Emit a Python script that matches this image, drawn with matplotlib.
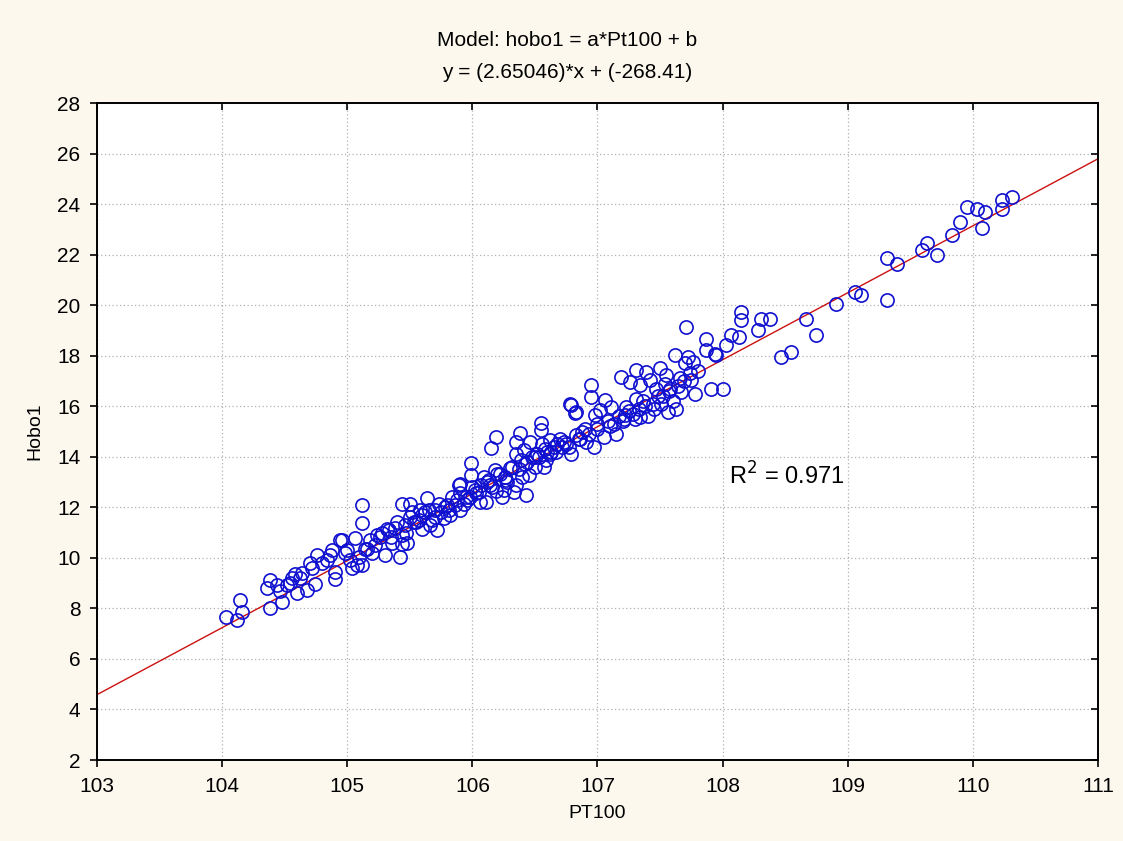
import numpy as np
import matplotlib
matplotlib.use("Agg")
import matplotlib.pyplot as plt

plt.rcParams["font.family"] = ["Liberation Sans", "DejaVu Sans"]

# fit from the chart title
slope = 2.65046
intercept = -268.41
r2 = 0.971

# points (PT100, Hobo1)
pt100 = [
    104.03, 104.12, 104.16, 104.14, 104.38, 104.38, 104.36, 104.44, 104.48, 104.52,
    104.58, 104.56, 104.60, 104.68, 104.74, 104.70, 104.76, 104.80, 104.86, 104.64,
    104.90, 104.90, 104.94, 104.96, 105.02, 105.08, 105.12, 105.14, 105.09, 105.04,
    104.98, 105.16, 105.22, 105.20, 105.26, 105.30, 105.32, 105.35, 105.40, 105.44,
    105.44, 105.42, 105.48, 105.50, 105.50, 105.44, 105.12, 105.12, 105.60, 105.60,
    105.64, 105.68, 105.72, 105.73, 105.77, 105.81, 105.90, 105.93, 105.89, 105.99,
    105.99, 106.03, 105.95, 106.06, 106.02, 106.11, 105.86, 105.90, 105.90, 106.00,
    106.09, 106.18, 106.19, 106.15, 106.19, 106.27, 106.30, 106.35, 106.35, 106.38,
    106.39, 106.41, 106.43, 106.45, 106.46, 106.50, 106.52, 106.55, 106.55, 106.57,
    106.59, 106.62, 106.67, 106.70, 106.72, 106.79, 106.79, 106.82, 106.83, 106.91,
    106.95, 106.95, 106.97, 106.98, 107.02, 107.06, 107.11, 106.78, 106.83, 107.19,
    107.22, 107.23, 107.26, 107.31, 107.31, 107.34, 107.34, 107.39, 107.42, 107.47,
    107.51, 107.50, 107.55, 107.56, 107.58, 107.62, 107.63, 107.67, 107.72, 107.71,
    107.76, 107.78, 107.80, 107.75, 107.87, 107.87, 107.91, 107.94, 107.95, 108.03,
    108.07, 108.13, 108.15, 108.15, 108.28, 108.31, 108.38, 108.47, 108.55, 108.67,
    108.75, 108.91, 109.06, 109.11, 109.31, 109.31, 109.39, 109.59, 109.63, 109.71,
    109.83, 109.90, 109.95, 110.03, 110.07, 110.10, 110.23, 110.23, 110.31, 108.00,
    106.90, 107.00, 107.10, 107.20, 107.15, 107.05, 107.30, 107.40, 107.25, 107.45,
    106.24, 106.33, 106.28, 106.22, 106.40, 106.48, 106.60, 106.65, 106.75, 106.86,
    105.55, 105.62, 105.66, 105.70, 105.78, 105.84, 105.96, 106.05, 106.12, 106.14,
    105.28, 105.36, 105.38, 105.46, 105.52, 105.58, 104.46, 104.54, 104.62, 104.72,
    104.84, 104.88, 105.00, 105.06, 107.36, 107.48, 107.54, 107.66, 107.70, 107.60,
    # denser core
    105.18, 105.24, 105.33, 105.47, 105.53, 105.57, 105.65, 105.75, 105.80, 105.88,
    106.07, 106.13, 106.20, 106.26, 106.32, 106.37, 106.44, 106.53, 106.58, 106.63,
    106.68, 106.73, 106.77, 106.85, 106.88, 106.93, 107.00, 107.08, 107.13, 107.17,
    107.21, 107.28, 107.33, 107.38, 107.44, 107.52, 107.57, 107.64, 107.69, 107.74,
    106.35, 106.42, 106.50, 106.56, 106.62, 106.25, 106.16, 105.98, 105.82, 105.70,
]
hobo1 = [
    7.67, 7.54, 7.87, 8.33, 8.00, 9.12, 8.79, 8.93, 8.26, 8.93,
    9.38, 9.20, 8.60, 8.73, 8.98, 9.78, 10.11, 9.78, 10.11, 9.40,
    9.45, 9.18, 10.70, 10.70, 9.90, 9.72, 9.72, 10.37, 10.04, 9.60,
    10.20, 10.37, 10.50, 10.20, 10.83, 10.11, 11.16, 10.83, 11.42, 10.90,
    10.56, 10.04, 10.60, 11.63, 12.15, 12.15, 12.09, 11.36, 11.69, 11.16,
    12.35, 11.49, 11.10, 12.15, 11.56, 11.89, 11.89, 12.15, 12.88, 13.74,
    13.28, 12.55, 12.40, 12.20, 12.70, 12.20, 12.10, 12.94, 12.55, 12.82,
    13.20, 13.48, 14.79, 14.33, 12.63, 13.08, 13.54, 12.90, 14.60, 14.94,
    13.87, 14.27, 12.49, 13.28, 14.60, 13.60, 14.10, 15.32, 15.06, 13.60,
    13.87, 14.66, 14.20, 14.72, 14.40, 14.13, 16.05, 15.72, 14.86, 14.60,
    16.84, 16.37, 14.40, 15.65, 15.84, 16.24, 15.97, 16.07, 15.77, 17.16,
    15.65, 15.97, 16.96, 17.43, 16.30, 16.83, 15.57, 17.36, 17.04, 16.70,
    16.10, 17.50, 17.24, 15.77, 16.70, 18.03, 15.90, 16.57, 17.95, 19.15,
    17.75, 16.48, 17.40, 17.04, 18.68, 18.22, 16.70, 18.07, 18.03, 18.42,
    18.82, 18.75, 19.73, 19.41, 19.02, 19.45, 19.45, 17.96, 18.15, 19.45,
    18.82, 20.04, 20.53, 20.40, 20.20, 21.85, 21.62, 22.18, 22.45, 21.98,
    22.77, 23.28, 23.87, 23.80, 23.07, 23.70, 24.16, 23.80, 24.27, 16.70,
    15.10, 15.30, 15.20, 15.40, 14.90, 14.80, 15.50, 15.60, 15.80, 15.90,
    12.40, 12.60, 13.00, 13.30, 13.20, 14.00, 14.20, 14.40, 14.50, 14.70,
    11.40, 11.80, 11.30, 11.60, 12.00, 12.40, 12.30, 12.60, 13.00, 12.90,
    11.00, 10.60, 11.20, 11.30, 11.80, 11.90, 8.70, 9.00, 9.20, 9.60,
    9.90, 10.30, 10.30, 10.80, 16.20, 16.40, 16.90, 17.10, 17.70, 16.20,
    # denser core
    10.70, 10.90, 11.10, 11.00, 11.40, 11.50, 11.90, 11.80, 12.10, 12.30,
    12.90, 13.10, 13.30, 13.20, 13.60, 13.50, 13.80, 14.00, 14.30, 14.20,
    14.50, 14.60, 14.40, 14.70, 15.00, 14.90, 15.10, 15.40, 15.30, 15.60,
    15.50, 15.70, 15.90, 16.00, 16.10, 16.40, 16.60, 16.80, 17.00, 17.30,
    14.10, 13.70, 14.00, 14.50, 14.10, 12.70, 12.80, 12.40, 11.70, 11.90,
]

fig = plt.figure(figsize=(11.23, 8.41), dpi=100, facecolor="#fcf8ee")
ax = fig.add_axes([0.0864, 0.0963, 0.8913, 0.7812])
ax.set_facecolor("white")

# regression line across the whole x range
xl = np.array([103, 111])
ax.plot(xl, slope * xl + intercept, color="#cc1010", lw=1.0, zorder=2)

ax.plot(pt100, hobo1, linestyle="none", marker="o", markersize=9.5,
        markerfacecolor="none", markeredgecolor="#1010d0", markeredgewidth=1.2, zorder=3)

ax.set_xlim(103, 111)
ax.set_ylim(2, 28)
ax.set_xticks(np.arange(103, 112, 1))
ax.set_yticks(np.arange(2, 29, 2))
ax.grid(True, color="#b0b0b0", linestyle=(0, (1, 2)), lw=0.9)
ax.set_axisbelow(True)
ax.tick_params(axis="both", labelsize=15, direction="out", length=5, width=1.2, pad=7)
ax.tick_params(axis="both", which="major", top=True, right=True)
ax.tick_params(axis="x", which="major", labeltop=False)
for sp in ax.spines.values():
    sp.set_linewidth(1.4)
# inward ticks on the top and right edges
for t in ax.xaxis.get_major_ticks():
    t.tick2line.set_marker(matplotlib.markers.TICKDOWN)
for t in ax.yaxis.get_major_ticks():
    t.tick2line.set_marker(matplotlib.markers.TICKLEFT)

ax.set_xlabel("PT100", fontsize=14, labelpad=7)
ax.set_ylabel("Hobo1", fontsize=14, labelpad=10)

ax.text(108.05, 12.9, "R$^2$ = 0.971", fontsize=17)

fig.text(567 / 1123, 1 - 40 / 841, "Model: hobo1 = a*Pt100 + b", ha="center", va="center", fontsize=15)
fig.text(567 / 1123, 1 - 73 / 841, "y = (2.65046)*x + (-268.41)", ha="center", va="center", fontsize=15)

fig.savefig("out.png", dpi=100, facecolor=fig.get_facecolor())
